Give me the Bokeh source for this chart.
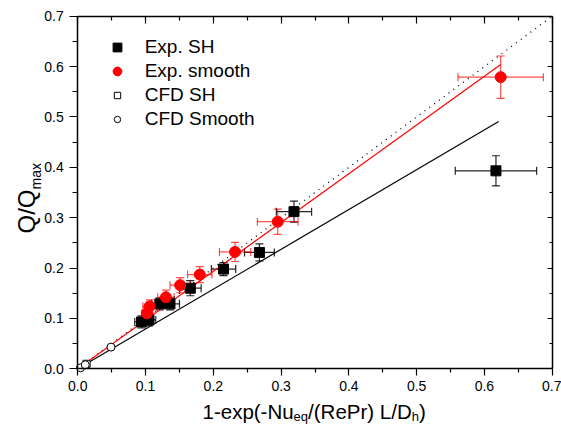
import math
from bokeh.plotting import figure
from bokeh.models import (ColumnDataSource, Whisker, TeeHead, LinearAxis, FixedTicker,
                          Range1d, Legend, LegendItem, Label, CustomJSTickFormatter,
                          PrintfTickFormatter)
from bokeh.embed import file_html
from bokeh.resources import INLINE

# ---------------- data ----------------
sh_x = [0.094, 0.105, 0.121, 0.136, 0.166, 0.215, 0.268, 0.319, 0.617]
sh_y = [0.093, 0.097, 0.129, 0.129, 0.160, 0.198, 0.231, 0.312, 0.393]
sh_xerr = [0.010, 0.010, 0.012, 0.014, 0.016, 0.018, 0.022, 0.026, 0.060]
sh_yerr = [0.012, 0.012, 0.012, 0.012, 0.015, 0.013, 0.017, 0.021, 0.030]

sm_x = [0.102, 0.106, 0.130, 0.151, 0.180, 0.232, 0.295, 0.624]
sm_y = [0.110, 0.124, 0.142, 0.166, 0.187, 0.232, 0.292, 0.579]
sm_xerr = [0.008, 0.010, 0.012, 0.015, 0.018, 0.023, 0.030, 0.063]
sm_yerr = [0.012, 0.013, 0.014, 0.015, 0.016, 0.019, 0.025, 0.042]

cfd_sh_x = [0.013]
cfd_sh_y = [0.010]
cfd_sm_x = [0.004, 0.011, 0.049]
cfd_sm_y = [0.002, 0.008, 0.043]

ideal_x = [0.0, 0.7]
ideal_y = [0.0, 0.7]
fit_sm_x = [0.0, 0.624]
fit_sm_y = [0.0, 0.604]
fit_sh_x = [0.0, 0.621]
fit_sh_y = [0.0, 0.491]

axis_min, axis_max = 0.0, 0.7
major_ticks = [0.0, 0.1, 0.2, 0.3, 0.4, 0.5, 0.6, 0.7]
minor_ticks = [0.05, 0.15, 0.25, 0.35, 0.45, 0.55, 0.65]

legend_labels = ["Exp. SH", "Exp. smooth", "CFD SH", "CFD Smooth"]

FONT = "Liberation Sans"

# ---------------- layout (pixels) ----------------
W, H = 561, 425
X0_PX, X1_PX = 77.3, 551.7      # where 0 and 0.7 fall horizontally
Y0_PX, Y1_PX = 368.3, 15.7      # where 0 and 0.7 fall vertically
kx = (X1_PX - X0_PX) / (axis_max - axis_min)
ky = (Y0_PX - Y1_PX) / (axis_max - axis_min)
xs = axis_min - X0_PX / kx
ys = axis_min - (H - Y0_PX) / ky

p = figure(width=W, height=H, output_backend="svg", toolbar_location=None,
           x_range=Range1d(xs, xs + W / kx), y_range=Range1d(ys, ys + H / ky),
           x_axis_location=None, y_axis_location=None, min_border=0)
p.grid.visible = False
p.outline_line_color = None
p.background_fill_color = "white"
p.border_fill_color = "white"


def make_axis(side, outward, tick_major, tick_minor, loc, standoff=0):
    ax = LinearAxis(fixed_location=loc, bounds=(axis_min, axis_max))
    ax.ticker = FixedTicker(ticks=major_ticks, minor_ticks=minor_ticks)
    ax.axis_line_width = 1.5
    ax.axis_line_color = "black"
    ax.major_tick_line_width = 1.2
    ax.minor_tick_line_width = 1.2
    ax.major_tick_line_color = "black"
    ax.minor_tick_line_color = "black"
    if outward:
        ax.major_tick_out, ax.major_tick_in = tick_major, 0
        ax.minor_tick_out, ax.minor_tick_in = tick_minor, 0
        ax.formatter = PrintfTickFormatter(format="%.1f")
        ax.major_label_text_font = FONT
        ax.major_label_text_font_size = "14px"
        ax.major_label_text_color = "black"
        ax.major_label_standoff = standoff
    else:
        ax.major_tick_out, ax.major_tick_in = 0, tick_major
        ax.minor_tick_out, ax.minor_tick_in = 0, tick_minor
        ax.formatter = CustomJSTickFormatter(code="return ''")
        ax.major_label_text_font_size = "1px"
        ax.major_label_standoff = 0
    p.add_layout(ax, side)
    return ax


make_axis("below", True, 7, 4, axis_min, standoff=5)
make_axis("left", True, 8, 5, axis_min, standoff=6)
make_axis("above", False, 7, 4, axis_max)
make_axis("right", False, 5, 3, axis_max)

# ---------------- lines ----------------
p.line(ideal_x, ideal_y, line_color="black", line_width=1.3, line_dash="1 5")
p.line(fit_sh_x, fit_sh_y, line_color="black", line_width=1.2)
p.line(fit_sm_x, fit_sm_y, line_color="red", line_width=1.2)


# ---------------- error bars + points ----------------
def add_errs(xv, yv, xe, ye, color, alpha):
    src = ColumnDataSource(dict(
        x=xv, y=yv,
        xlo=[a - b for a, b in zip(xv, xe)], xhi=[a + b for a, b in zip(xv, xe)],
        ylo=[a - b for a, b in zip(yv, ye)], yhi=[a + b for a, b in zip(yv, ye)]))
    for dim, base, lo, hi in (("width", "y", "xlo", "xhi"), ("height", "x", "ylo", "yhi")):
        w = Whisker(source=src, base=base, lower=lo, upper=hi, dimension=dim,
                    line_color=color, line_alpha=alpha, line_width=1.2,
                    lower_head=TeeHead(size=8, line_color=color, line_alpha=alpha, line_width=1.2),
                    upper_head=TeeHead(size=8, line_color=color, line_alpha=alpha, line_width=1.2))
        p.add_layout(w)
    return src


src_sh = add_errs(sh_x, sh_y, sh_xerr, sh_yerr, "black", 0.85)
r_sh = p.scatter("x", "y", source=src_sh, marker="square", size=10,
                 fill_color="black", line_color="black")
src_sm = add_errs(sm_x, sm_y, sm_xerr, sm_yerr, "red", 0.7)
r_sm = p.scatter("x", "y", source=src_sm, marker="circle", size=11,
                 fill_color="red", line_color="red")

r_csh = p.scatter(cfd_sh_x, cfd_sh_y, marker="square", size=7,
                  fill_color="white", line_color="black", line_width=1)
r_csm = p.scatter(cfd_sm_x, cfd_sm_y, marker="circle", size=8,
                  fill_color="white", line_color="black", line_width=1)

# ---------------- legend (two blocks: filled / open markers) ----------------
ROW = 24
leg_cx, leg_top, text_x = 116.7, 34.7, 145.0
common = dict(padding=0, margin=0, spacing=0, glyph_height=ROW, label_height=ROW,
              label_text_font=FONT, label_text_font_size="19px", label_text_color="black",
              border_line_color=None, background_fill_alpha=0)
gw1 = 22
leg1 = Legend(items=[LegendItem(label=legend_labels[0], renderers=[r_sh]),
                     LegendItem(label=legend_labels[1], renderers=[r_sm])],
              location=(leg_cx - gw1 / 2, H - (leg_top + 2 * ROW)),
              glyph_width=gw1, label_standoff=int(round(text_x - (leg_cx + gw1 / 2))), **common)
gw2 = 16
leg2 = Legend(items=[LegendItem(label=legend_labels[2], renderers=[r_csh]),
                     LegendItem(label=legend_labels[3], renderers=[r_csm])],
              location=(leg_cx - gw2 / 2, H - (leg_top + 4 * ROW)),
              glyph_width=gw2, label_standoff=int(round(text_x - (leg_cx + gw2 / 2))), **common)
p.add_layout(leg1, "center")
p.add_layout(leg2, "center")

# ---------------- axis titles (with subscripts) ----------------
CW = {'1': 556, '-': 333, 'e': 556, 'x': 500, 'p': 556, '(': 333, 'N': 722, 'u': 556,
      'q': 556, '/': 278, 'R': 722, 'P': 667, 'r': 333, ')': 333, ' ': 278, 'L': 556,
      'D': 722, 'h': 556, 'Q': 778, 'm': 833, 'a': 556}


def tw(s, size):
    return sum(CW[c] for c in s) * size / 1000.0


def rich_label(pieces, x0, y0, main, sub, sub_drop, rotated=False):
    pos = y0 if rotated else x0
    for txt, is_sub in pieces:
        size = sub if is_sub else main
        if rotated:
            lx, ly = x0 + (sub_drop if is_sub else 0), pos
        else:
            lx, ly = pos, y0 - (sub_drop if is_sub else 0)
        p.add_layout(Label(x=lx, y=ly, x_units="screen", y_units="screen", text=txt,
                           angle=(math.pi / 2 if rotated else 0.0),
                           text_align="left", text_baseline="alphabetic",
                           text_font=FONT, text_font_size=f"{size}px", text_color="black"))
        pos += tw(txt, size)


# x title: kept a few px above the bottom edge so that nothing is cut
rich_label([("1-exp(-Nu", False), ("eq", True), ("/(RePr) L/D", False), ("h", True), (")", False)],
           202, H - 411, 20.5, 13, 5)
# y title: reads bottom-to-top, baseline at ~26 px from left, starts ~233 px from top
rich_label([("Q/Q", False), ("max", True)], 26, H - 233, 24, 14, 9, rotated=True)

open("out.html", "w").write(file_html(p, INLINE))
